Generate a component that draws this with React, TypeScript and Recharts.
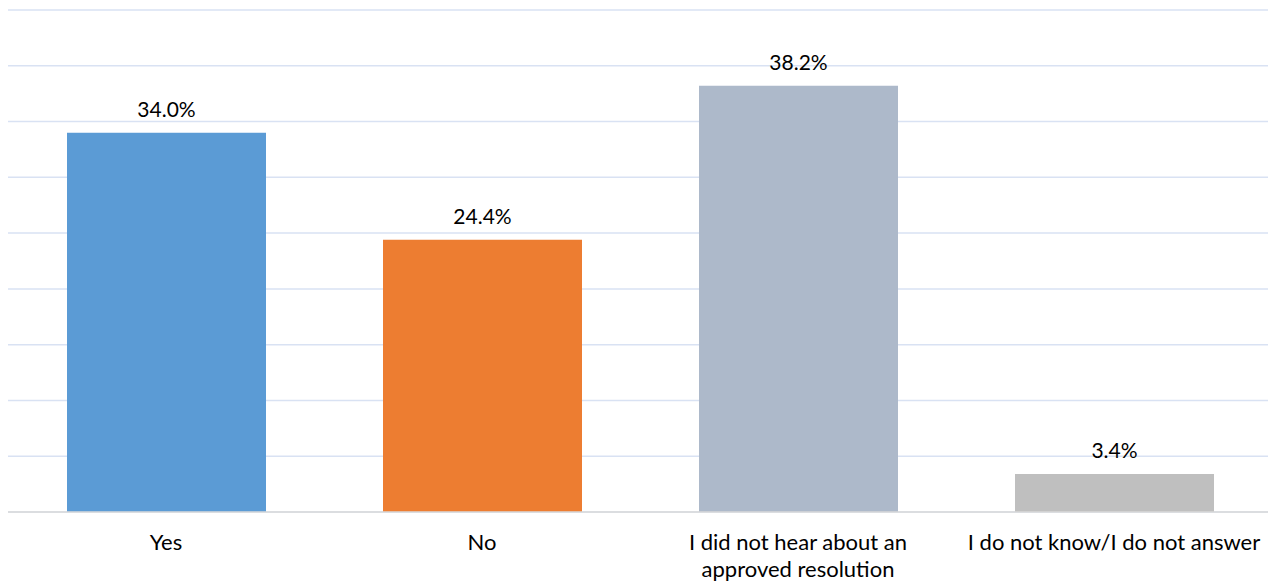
import { BarChart, Bar, XAxis, YAxis, CartesianGrid, Cell, LabelList } from 'recharts';

const CATEGORIAS = ['Yes', 'No', 'I did not hear about an approved resolution', 'I do not know/I do not answer'];
const VALORES = [34.0, 24.4, 38.2, 3.4];
const COLORES = ['#5B9BD5', '#ED7D31', '#ADB9CA', '#BFBFBF'];
const TICKS_Y = [0, 5, 10, 15, 20, 25, 30, 35, 40, 45];

// Etiquetas partidas en líneas como en el original
const LINEAS: Record<string, string[]> = {
  'I did not hear about an approved resolution': ['I did not hear about an', 'approved resolution'],
};

const FUENTE = 'Lato, "Open Sans", sans-serif';

const rows = CATEGORIAS.map((c, i) => ({ cat: c, valor: VALORES[i] }));

function TickCat({ x, y, payload }: any) {
  const lineas = LINEAS[payload.value] ?? [payload.value];
  return (
    <text x={x} y={y} textAnchor="middle" fontSize={22} fill="#000" fontFamily={FUENTE}>
      {lineas.map((l, i) => (
        <tspan key={i} x={x} dy={i === 0 ? 30 : 27}>{l}</tspan>
      ))}
    </text>
  );
}

export default function App() {
  return (
    <div style={{ margin: '-8px -8px 0 -8px', width: 1276, height: 583, background: '#fff' }}>
      <BarChart width={1276} height={583} data={rows} margin={{ top: 10, right: 4, left: 8, bottom: 0 }} barSize={199}>
        <CartesianGrid vertical={false} stroke="#D9E2F3" strokeWidth={1.5} />
        <YAxis hide domain={[0, 45]} ticks={TICKS_Y} />
        <XAxis
          dataKey="cat"
          tick={<TickCat />}
          tickLine={false}
          axisLine={{ stroke: '#D9D9D9', strokeWidth: 1.5 }}
          interval={0}
          height={71}
        />
        <Bar dataKey="valor" isAnimationActive={false}>
          {rows.map((_, i) => (
            <Cell key={i} fill={COLORES[i]} />
          ))}
          <LabelList
            dataKey="valor"
            position="top"
            offset={16}
            formatter={(v: any) => `${Number(v).toFixed(1)}%`}
            style={{ fontSize: 21, fill: '#000', fontFamily: FUENTE }}
          />
        </Bar>
      </BarChart>
    </div>
  );
}
